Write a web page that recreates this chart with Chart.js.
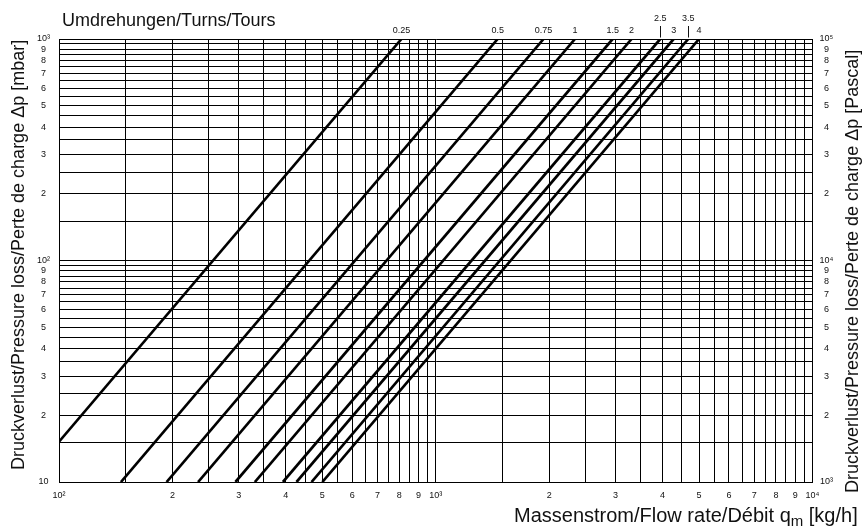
<!DOCTYPE html>
<html><head><meta charset="utf-8">
<script src="https://cdn.jsdelivr.net/npm/chart.js@4.4.1/dist/chart.umd.min.js"></script>
<style>html,body{margin:0;padding:0;background:#fff;}#wrap{width:862px;height:532px;position:relative;}</style>
</head><body><div id="wrap"><canvas id="c"></canvas></div>
<script>
// Turn settings (series)
const turns = ['0.25','0.5','0.75','1','1.5','2','2.5','3','3.5','4'];
// first point of each line: flow [kg/h], pressure loss [mbar]
const flowStart = [100, 146, 193, 234, 294, 331, 393, 427, 468, 500];
const dpStart   = [15.2, 10, 10, 10, 10, 10, 10, 10, 10, 10];
// last point of each line
const flowEnd   = [811, 1460, 1933, 2342, 2948, 3310, 3943, 4280, 4680, 5000];
const dpEnd     = [1000, 1000, 1000, 1000, 1000, 1000, 1000, 1000, 1000, 1000];

const xTickValues = [100,150,200,250,300,350,400,450,500,550,600,650,700,750,800,850,900,950,
  1000,1500,2000,2500,3000,3500,4000,4500,5000,5500,6000,6500,7000,7500,8000,8500,9000,9500,10000];
const xTickLabels = ['10²','','2','','3','','4','','5','','6','','7','','8','','9','',
  '10³','','2','','3','','4','','5','','6','','7','','8','','9','','10⁴'];
const yTickValues = [10,15,20,25,30,35,40,45,50,55,60,65,70,75,80,85,90,95,
  100,150,200,250,300,350,400,450,500,550,600,650,700,750,800,850,900,950,1000];
const yTickLabels = ['10','','2','','3','','4','','5','','6','','7','','8','','9','',
  '10²','','2','','3','','4','','5','','6','','7','','8','','9','','10³'];
const y2TickValues = [1000,1500,2000,2500,3000,3500,4000,4500,5000,5500,6000,6500,7000,7500,8000,8500,9000,9500,
  10000,15000,20000,25000,30000,35000,40000,45000,50000,55000,60000,65000,70000,75000,80000,85000,90000,95000,100000];
const y2TickLabels = ['10³','','2','','3','','4','','5','','6','','7','','8','','9','',
  '10⁴','','2','','3','','4','','5','','6','','7','','8','','9','','10⁵'];

const RAISED = ['2.5','3.5'];
const SANS = '"Liberation Sans", Arial, Helvetica, sans-serif';
const NARROW = '"Liberation Sans Narrow", "Liberation Sans", Arial, sans-serif';

const datasets = turns.map((t, i) => ({
  label: t,
  data: [{x: flowStart[i], y: dpStart[i]}, {x: flowEnd[i], y: dpEnd[i]}],
  borderColor: '#000', borderWidth: 2.7, pointRadius: 0, fill: false, tension: 0,
  borderCapStyle: 'butt'
}));

const gridCol = '#000';
const tickFont = {family: NARROW, size: 9};

const seriesLabels = {
  id: 'seriesLabels',
  afterDatasetsDraw(chart) {
    const ctx = chart.ctx;
    chart.data.datasets.forEach((ds, i) => {
      const meta = chart.getDatasetMeta(i);
      const p = meta.data[meta.data.length - 1];
      ctx.save();
      ctx.font = '9px ' + NARROW;
      ctx.fillStyle = '#111';
      ctx.textAlign = 'center';
      ctx.textBaseline = 'alphabetic';
      if (RAISED.includes(ds.label)) {
        ctx.strokeStyle = '#111'; ctx.lineWidth = 1;
        ctx.beginPath();
        ctx.moveTo(Math.round(p.x) + 0.5, p.y - 13);
        ctx.lineTo(Math.round(p.x) + 0.5, p.y - 1.5);
        ctx.stroke();
        ctx.fillText(ds.label, p.x, p.y - 18.3);
      } else {
        ctx.fillText(ds.label, p.x, p.y - 6.3);
      }
      ctx.restore();
    });
  }
};

const titles = {
  id: 'titles',
  afterDraw(chart) {
    const ctx = chart.ctx;
    ctx.save();
    ctx.fillStyle = '#111';
    ctx.textBaseline = 'alphabetic';
    ctx.textAlign = 'left';
    // top title
    ctx.font = '18px ' + SANS;
    ctx.fillText('Umdrehungen/Turns/Tours', 62, 26);
    // bottom title with subscript
    let x = 514, y = 522;
    ctx.font = '20px ' + SANS;
    const a = 'Massenstrom/Flow rate/Débit q';
    ctx.fillText(a, x, y); x += ctx.measureText(a).width;
    ctx.font = '15px ' + SANS;
    ctx.fillText('m', x, y + 4); x += ctx.measureText('m').width;
    ctx.font = '20px ' + SANS;
    ctx.fillText(' [kg/h]', x, y);
    // left title
    ctx.font = '18px ' + SANS;
    ctx.save();
    ctx.translate(23.5, 470);
    ctx.rotate(-Math.PI / 2);
    ctx.fillText('Druckverlust/Pressure loss/Perte de charge Δp [mbar]', 0, 0);
    ctx.restore();
    // right title
    ctx.save();
    ctx.translate(858, 493);
    ctx.rotate(-Math.PI / 2);
    ctx.fillText('Druckverlust/Pressure loss/Perte de charge Δp [Pascal]', 0, 0);
    ctx.restore();
    ctx.restore();
  }
};

new Chart(document.getElementById('c'), {
  type: 'line',
  data: {datasets},
  options: {
    responsive: true, maintainAspectRatio: false, animation: false,
    layout: {padding: {top: 39, left: 0, right: 0, bottom: 0}},
    plugins: {legend: {display: false}, tooltip: {enabled: false}, title: {display: false}},
    scales: {
      x: {
        type: 'logarithmic', min: 100, max: 10000, position: 'bottom',
        afterBuildTicks: s => { s.ticks = xTickValues.map(v => ({value: v})); },
        afterFit: s => { s.height = 50; },
        ticks: {autoSkip: false, maxRotation: 0, minRotation: 0, padding: 8, color: '#111', font: tickFont,
          callback: (v, i) => xTickLabels[i]},
        grid: {color: gridCol, lineWidth: 1, drawTicks: false},
        border: {display: true, color: gridCol, width: 1}
      },
      y: {
        type: 'logarithmic', min: 10, max: 1000, position: 'left',
        afterBuildTicks: s => { s.ticks = yTickValues.map(v => ({value: v})); },
        afterFit: s => { s.width = 59; },
        ticks: {autoSkip: false, padding: 9, crossAlign: 'center', color: '#111', font: tickFont,
          callback: (v, i) => yTickLabels[i]},
        grid: {color: gridCol, lineWidth: 1, drawTicks: false},
        border: {display: true, color: gridCol, width: 1}
      },
      y2: {
        type: 'logarithmic', min: 1000, max: 100000, position: 'right',
        afterBuildTicks: s => { s.ticks = y2TickValues.map(v => ({value: v})); },
        afterFit: s => { s.width = 49.5; },
        ticks: {autoSkip: false, padding: 7, crossAlign: 'center', color: '#111', font: tickFont,
          callback: (v, i) => y2TickLabels[i]},
        grid: {display: false, drawTicks: false},
        border: {display: true, color: gridCol, width: 1}
      }
    }
  },
  plugins: [seriesLabels, titles]
});
</script>
</body></html>
